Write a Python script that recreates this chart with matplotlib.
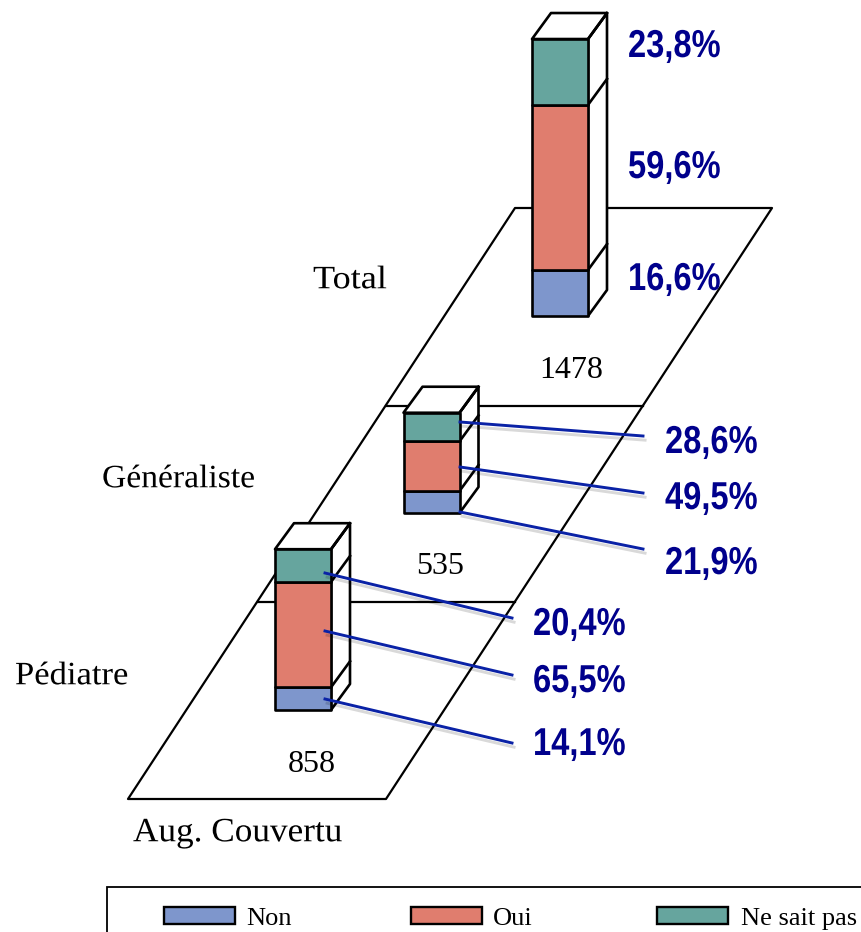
import matplotlib
matplotlib.use("Agg")
import matplotlib.pyplot as plt
import matplotlib.patches as patches
import matplotlib.patheffects as pe
from matplotlib.transforms import Affine2D

# data
categories = ["Pédiatre", "Généraliste", "Total"]
counts = [858, 535, 1478]
non_pct = [14.1, 21.9, 16.6]
oui_pct = [65.5, 49.5, 59.6]
nsp_pct = [20.4, 28.6, 23.8]
series_names = ["Non", "Oui", "Ne sait pas"]
axis_title = "Aug. Couvertu"

colors = ["#7E96CC", "#E07D6E", "#66A59E"]
label_color = "#00008C"
leader_color = "#0A22A6"

# pseudo 3D layout, in pixels
origin = (275, 710)      # front left foot of the first bar
step = (128.5, -197)     # from one row to the next
bar_w = 56
depth = (19, -26)
px_per_count = 0.1874

pct_font = "Liberation Sans"
serif_font = "Liberation Serif"


# the reference has squeezed text, no narrow font here so scale the glyphs
class Squeeze(pe.AbstractPathEffect):
    def __init__(self, sx=1.0, sy=1.0):
        super().__init__()
        self.sx = sx
        self.sy = sy

    def draw_path(self, renderer, gc, tpath, affine, rgbFace=None):
        renderer.draw_path(gc, tpath, Affine2D().scale(self.sx, self.sy) + affine, rgbFace)


fig = plt.figure(figsize=(8.61, 9.32), dpi=100)
ax = fig.add_axes([0, 0, 1, 1])
ax.set_xlim(0, 861)
ax.set_ylim(932, 0)
ax.axis("off")


def foot(row):
    return origin[0] + step[0] * row, origin[1] + step[1] * row


def draw_poly(points, facecolor="white", zorder=3, lw=1.9):
    ax.add_patch(patches.Polygon(points, closed=True, facecolor=facecolor, edgecolor="black",
                                 linewidth=lw, joinstyle="round", zorder=zorder))


# floor
draw_poly([(128, 799), (386, 799), (772, 208), (515, 208)], zorder=1, lw=1.6)
ax.plot([386, 643], [406, 406], color="black", lw=1.6, zorder=1)
ax.plot([258, 515], [602, 602], color="black", lw=1.6, zorder=1)

# bars
for row in range(len(categories)):
    x0, y0 = foot(row)
    total_h = counts[row] * px_per_count
    x1 = x0 + bar_w
    dx, dy = depth
    # side and top
    draw_poly([(x1, y0), (x1 + dx, y0 + dy), (x1 + dx, y0 - total_h + dy), (x1, y0 - total_h)])
    draw_poly([(x0, y0 - total_h), (x1, y0 - total_h), (x1 + dx, y0 - total_h + dy), (x0 + dx, y0 - total_h + dy)])
    level = 0
    for pct, col in zip([non_pct[row], oui_pct[row], nsp_pct[row]], colors):
        h = counts[row] * pct / 100 * px_per_count
        ax.add_patch(patches.Rectangle((x0, y0 - level - h), bar_w, h, facecolor=col,
                                       edgecolor="black", linewidth=1.9, joinstyle="round", zorder=4))
        level += h
        ax.plot([x1, x1 + dx], [y0 - level, y0 - level + dy], color="black", lw=1.9, zorder=3.5)

# text labels, positions in pixels
cat_pos = [(15, 676), (102, 479), (313, 280)]
cat_sx = [1.06, 1.03, 1.11]
count_pos = [(312, 765), (440, 567), (571, 371)]
for name, n, cp, sx, np_ in zip(categories, counts, cat_pos, cat_sx, count_pos):
    ax.text(cp[0], cp[1], name, family=serif_font, fontsize=23.5, ha="left", va="center", zorder=6,
            path_effects=[Squeeze(sx, 1.0)])
    ax.text(np_[0], np_[1], str(n), family=serif_font, fontsize=23, ha="center", va="center", zorder=6)
ax.text(133, 833, axis_title, family=serif_font, fontsize=24.5, ha="left", va="center", zorder=6,
        path_effects=[Squeeze(1.035, 1.0)])

# percentage labels and leaders
pct_x = [533, 665, 628]
pct_base = [[755, 692, 635], [574, 509, 453], [290, 178, 57]]
leader_start = [[(325, 699), (325, 631), (325, 573)], [(460, 512), (460, 467), (460, 422)]]
leader_end = [[(512, 743), (512, 675), (512, 618)], [(643, 549), (643, 493), (643, 436)]]

for row in range(len(categories)):
    vals = [non_pct[row], oui_pct[row], nsp_pct[row]]
    for i, v in enumerate(vals):
        ax.text(pct_x[row], pct_base[row][i], f"{v:.1f}%".replace(".", ","), family=pct_font,
                fontsize=28, fontweight="bold", color=label_color, ha="left", va="baseline", zorder=7,
                path_effects=[Squeeze(0.84, 1.0)])
        if row < 2:
            s, e = leader_start[row][i], leader_end[row][i]
            ax.plot([s[0], e[0]], [s[1], e[1]], color=leader_color, lw=2.1, zorder=5,
                    path_effects=[pe.SimpleLineShadow(offset=(1.5, -3), alpha=0.15, shadow_color="black"), pe.Normal()])

# legend box, runs off the picture
ax.add_patch(patches.Rectangle((107, 887), 800, 100, facecolor="white", edgecolor="black", linewidth=1.3, zorder=2))
swatch_x = [164, 411, 657]
text_x = [246, 493, 741]
for name, col, sx, tx in zip(series_names, colors, swatch_x, text_x):
    ax.add_patch(patches.Rectangle((sx, 907), 71, 17, facecolor=col, edgecolor="black", linewidth=1.7, zorder=3))
    ax.text(tx, 919, name, family=serif_font, fontsize=19, ha="left", va="center", zorder=3)

fig.savefig("out.png", dpi=100)
